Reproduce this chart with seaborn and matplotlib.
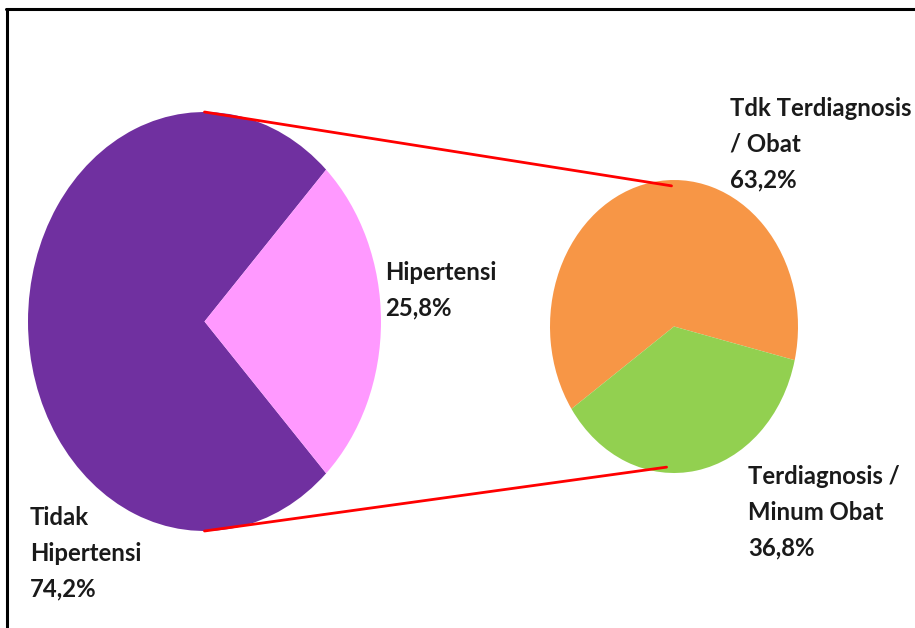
import matplotlib
matplotlib.use("Agg")
import matplotlib.pyplot as plt
from matplotlib.patches import ConnectionPatch
from matplotlib.lines import Line2D
import seaborn as sns

# Data
main_labels = ["Tidak\nHipertensi", "Hipertensi"]
main_values = [74.2, 25.8]
main_colors = ["#7030A0", "#FF99FF"]

sub_labels = ["Tdk Terdiagnosis\n/ Obat", "Terdiagnosis /\nMinum Obat"]
sub_values = [63.2, 36.8]
sub_colors = ["#F79646", "#92D050"]

sns.set_theme(style="white")
plt.rcParams["font.family"] = ["Lato", "DejaVu Sans"]

W, H = 915, 628
fig = plt.figure(figsize=(W / 100, H / 100), dpi=100)
fig.patch.set_facecolor("white")


def px_axes(x0, y0, x1, y1):
    """Axes placed by pixel box (top-left origin)."""
    return fig.add_axes([x0 / W, 1 - y1 / H, (x1 - x0) / W, (y1 - y0) / H])


# Main pie (stretched into an ellipse)
ax_main = px_axes(28, 112, 381, 531)
main_start = 90 * main_values[1] / 50  # center the small slice on the right
ax_main.pie(main_values, colors=main_colors, startangle=main_start,
            counterclock=True, wedgeprops=dict(linewidth=0))
ax_main.set_aspect("auto")
ax_main.set_xlim(-1, 1)
ax_main.set_ylim(-1, 1)
ax_main.axis("off")

# Breakdown pie
ax_sub = px_axes(550, 180, 798, 473)
ax_sub.pie(sub_values, colors=sub_colors, startangle=-13.3,
           counterclock=True, wedgeprops=dict(linewidth=0))
ax_sub.set_aspect("auto")
ax_sub.set_xlim(-1, 1)
ax_sub.set_ylim(-1, 1)
ax_sub.axis("off")

# Connector lines between the pies
for (xa, ya), (xb, yb) in [((0, 1), (-0.02, 0.96)), ((0, -1), (-0.06, -0.96))]:
    con = ConnectionPatch(xyA=(xa, ya), coordsA=ax_main.transData,
                          xyB=(xb, yb), coordsB=ax_sub.transData,
                          color="#FF0000", linewidth=2)
    fig.add_artist(con)

# Overlay for labels and frame, in pixel units
ov = fig.add_axes([0, 0, 1, 1], facecolor="none")
ov.set_xlim(0, W)
ov.set_ylim(H, 0)
ov.axis("off")

label_style = dict(fontsize=17.2, fontweight="bold", color="#1a1a1a",
                   ha="left", va="top", linespacing=1.68)


def pct(v):
    return f"{v:.1f}%".replace(".", ",")


ov.text(30, 506, f"{main_labels[0]}\n{pct(main_values[0])}", **label_style)
ov.text(385, 261, f"{main_labels[1]}\n{pct(main_values[1])}", **label_style)
ov.text(730, 97, f"{sub_labels[0]}\n{pct(sub_values[0])}", **label_style)
ov.text(748, 465, f"{sub_labels[1]}\n{pct(sub_values[1])}", **label_style)

# Frame on top and left
ov.add_line(Line2D([6, W], [9, 9], color="black", linewidth=2.2))
ov.add_line(Line2D([7, 7], [9, H], color="black", linewidth=2.2))

fig.savefig("out.png", dpi=100, facecolor="white")
